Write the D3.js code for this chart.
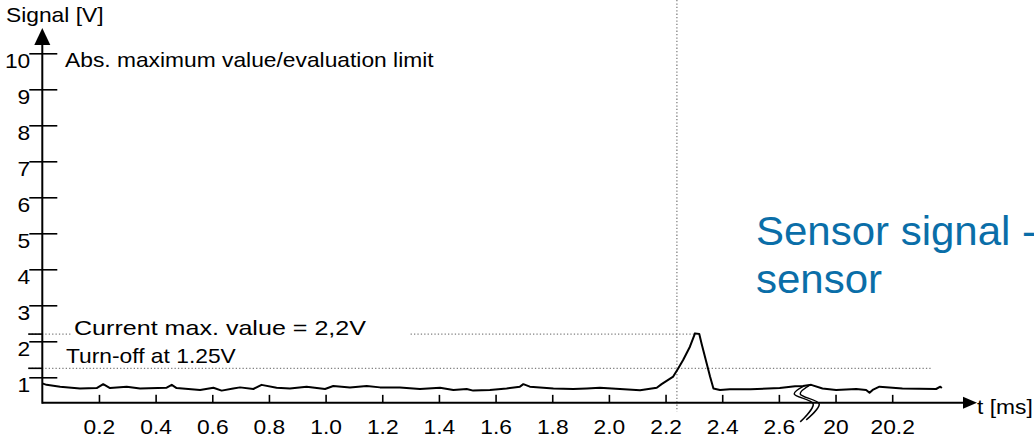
<!DOCTYPE html>
<html>
<head>
<meta charset="utf-8">
<script src="https://cdn.jsdelivr.net/npm/d3@7"></script>
<style>
  body { margin: 0; background: #fff; }
  svg { display: block; font-family: "Liberation Sans", Arial, sans-serif; }
</style>
</head>
<body>
<svg id="chart" width="1034" height="441"></svg>
<script>
// signal trace (t in ms, signal in V)
const timeMs = [
  0, 0.015, 0.063, 0.133, 0.192, 0.215, 0.239, 0.298, 0.345, 0.439, 0.457, 0.474,
  0.557, 0.604, 0.633, 0.674, 0.698, 0.745, 0.774, 0.827, 0.874, 0.933, 0.998, 1.027,
  1.086, 1.145, 1.192, 1.262, 1.333, 1.404, 1.451, 1.498, 1.521, 1.58, 1.639, 1.686,
  1.698, 1.721, 1.804, 1.874, 1.922, 1.968, 2.039, 2.11, 2.169, 2.186, 2.227, 2.245,
  2.262, 2.286, 2.304, 2.319, 2.327, 2.345, 2.357, 2.369, 2.392, 2.427, 2.5, 2.603,
  2.657, 2.685,
  19.914, 19.954, 20.002, 20.073, 20.108, 20.12, 20.131, 20.155, 20.236, 20.355, 20.37, 20.375
]
const signalV = [
  0.83, 0.79, 0.74, 0.69, 0.70, 0.81, 0.70, 0.74, 0.69, 0.71, 0.79, 0.70,
  0.65, 0.71, 0.63, 0.69, 0.72, 0.675, 0.79, 0.71, 0.69, 0.74, 0.675, 0.76,
  0.72, 0.76, 0.72, 0.72, 0.675, 0.71, 0.65, 0.675, 0.63, 0.65, 0.69, 0.74,
  0.81, 0.74, 0.69, 0.675, 0.69, 0.71, 0.675, 0.64, 0.71, 0.81, 1.02, 1.25,
  1.48, 1.85, 2.22, 2.20, 1.94, 1.39, 1.02, 0.69, 0.65, 0.67, 0.67, 0.70,
  0.75, 0.76,
  0.79, 0.69, 0.65, 0.675, 0.65, 0.57, 0.65, 0.74, 0.69, 0.675, 0.74, 0.70
]

const xTicks = [0.2, 0.4, 0.6, 0.8, 1.0, 1.2, 1.4, 1.6, 1.8, 2.0, 2.2, 2.4, 2.6, 20, 20.2]
const xTickLabels = ["0.2", "0.4", "0.6", "0.8", "1.0", "1.2", "1.4", "1.6", "1.8", "2.0", "2.2", "2.4", "2.6", "20", "20.2"]
const yTicks = [1, 2, 3, 4, 5, 6, 7, 8, 9, 10]

const currentMax = 2.2   // V
const turnOff = 1.25     // V
const cursorTime = 2.24  // ms, vertical marker
const breakFrom = 2.7    // time axis is cut between these two
const breakTo = 19.9
const yAxisFloor = 0.29  // value where the time axis crosses

const svg = d3.select("#chart")
const stretch = 1.14 // the source picture is a bit wider than tall
const fs = 20

// piecewise scale, the flat piece is the axis break
const x0 = 42.3, pxPerMs = 283.3
const xBreak = x0 + breakFrom * pxPerMs
const x = d3.scaleLinear()
  .domain([0, breakFrom, breakTo, 20.5])
  .range([x0, xBreak, xBreak, xBreak + (20.5 - breakTo) * pxPerMs])
const y = d3.scaleLinear().domain([0, 10]).range([413.3, 53.3])

const axisY = y(yAxisFloor)
const axisX = x(0)

function label(px, py, txt, opts = {}) {
  const t = svg.append("text")
    .attr("transform", `translate(${px},${py}) scale(${opts.sx || stretch},1)`)
    .attr("font-size", opts.size || fs)
    .attr("fill", opts.color || "#000")
    .text(txt)
  if (opts.len) t.attr("textLength", opts.len).attr("lengthAdjust", "spacingAndGlyphs")
  return t
}

// dotted guide lines
const dotted = svg.append("g")
  .attr("stroke", "#808080")
  .attr("stroke-width", 1.3)
  .attr("stroke-dasharray", "1.3,2.1")
  .attr("fill", "none")

dotted.append("line")
  .attr("x1", x(cursorTime)).attr("x2", x(cursorTime))
  .attr("y1", 0).attr("y2", axisY + 9)

dotted.append("line")
  .attr("x1", axisX - 14).attr("x2", axisX + 30)
  .attr("y1", y(currentMax)).attr("y2", y(currentMax))
dotted.append("line")
  .attr("x1", x(1.3)).attr("x2", x(2.31))
  .attr("y1", y(currentMax)).attr("y2", y(currentMax))

dotted.append("line")
  .attr("x1", axisX - 14).attr("x2", x(20.34))
  .attr("y1", y(turnOff)).attr("y2", y(turnOff))

// solid marks for the two thresholds on the value axis
svg.append("g")
  .attr("stroke", "#000").attr("stroke-width", 1.6)
  .selectAll("line")
  .data([currentMax, turnOff])
  .join("line")
  .attr("x1", axisX - 14).attr("x2", axisX)
  .attr("y1", (d) => y(d)).attr("y2", (d) => y(d))

// x axis
const gx = svg.append("g")
  .attr("transform", `translate(0,${axisY})`)
  .call(d3.axisBottom(x)
    .tickValues(xTicks)
    .tickFormat((d, i) => xTickLabels[i])
    .tickSizeInner(-8)
    .tickSizeOuter(0)
    .tickPadding(17))
gx.select(".domain").remove()
gx.selectAll(".tick line").attr("stroke", "#000").attr("stroke-width", 1.6)
gx.selectAll(".tick text")
  .attr("font-size", fs)
  .attr("font-family", null)
  .attr("fill", "#000")
  .attr("transform", `scale(${stretch},1)`)

svg.append("line")
  .attr("x1", axisX).attr("x2", 964)
  .attr("y1", axisY).attr("y2", axisY)
  .attr("stroke", "#000").attr("stroke-width", 2)
svg.append("path")
  .attr("d", `M963,${axisY - 6}L977,${axisY}L963,${axisY + 6}Z`)
  .attr("fill", "#000")
label(977, axisY + 11, "t [ms]")

// y axis
const gy = svg.append("g")
  .attr("transform", `translate(${axisX},0)`)
  .call(d3.axisLeft(y)
    .tickValues(yTicks)
    .tickFormat(d3.format("d"))
    .tickSizeInner(13)
    .tickSizeOuter(0)
    .tickPadding(-1))
gy.select(".domain").remove()
gy.selectAll(".tick line").attr("x1", 15).attr("stroke", "#000").attr("stroke-width", 1.6)
gy.selectAll(".tick text")
  .attr("font-size", fs)
  .attr("font-family", null)
  .attr("fill", "#000")
  .attr("dy", "0.72em")
  .attr("x", -12 / stretch)
  .attr("transform", `scale(${stretch},1)`)

svg.append("line")
  .attr("x1", axisX).attr("x2", axisX)
  .attr("y1", 44).attr("y2", axisY + 1)
  .attr("stroke", "#000").attr("stroke-width", 2)
svg.append("path")
  .attr("d", `M${axisX},28L${axisX + 8},45L${axisX - 8},45Z`)
  .attr("fill", "#000")
label(6, 22, "Signal [V]")

// axis break: two S shaped strokes crossing the time axis
const squiggle = d3.line().curve(d3.curveCatmullRom)
const breakMarks = [
  [[-3, -17], [-13, -9], [6, 1], [-7, 19]],
  [[3, -18], [-7, -9], [12, 1], [-1, 17]],
]
svg.append("g")
  .selectAll("path")
  .data(breakMarks)
  .join("path")
  .attr("d", (pts) => squiggle(pts.map(([dx, dy]) => [xBreak + dx, axisY + dy])))
  .attr("fill", "none")
  .attr("stroke", "#000")
  .attr("stroke-width", 1.5)

// the signal
const points = timeMs.map((t, i) => ({ t, v: signalV[i] }))
svg.append("path")
  .datum(points)
  .attr("d", d3.line().x((d) => x(d.t)).y((d) => y(d.v)))
  .attr("fill", "none")
  .attr("stroke", "#000")
  .attr("stroke-width", 2)
  .attr("stroke-linejoin", "round")

// annotations
label(65, 67, "Abs. maximum value/evaluation limit")
label(74, y(currentMax) + 0.5, "Current max. value = 2,2V", { len: 292 / stretch })
label(66, y(turnOff) - 5, "Turn-off at 1.25V")

const blue = "#0a6ea8"
label(756, 245, "Sensor signal -", { size: 40, sx: 1.05, color: blue })
label(756, 293, "sensor", { size: 40, sx: 1.05, color: blue })
</script>
</body>
</html>
